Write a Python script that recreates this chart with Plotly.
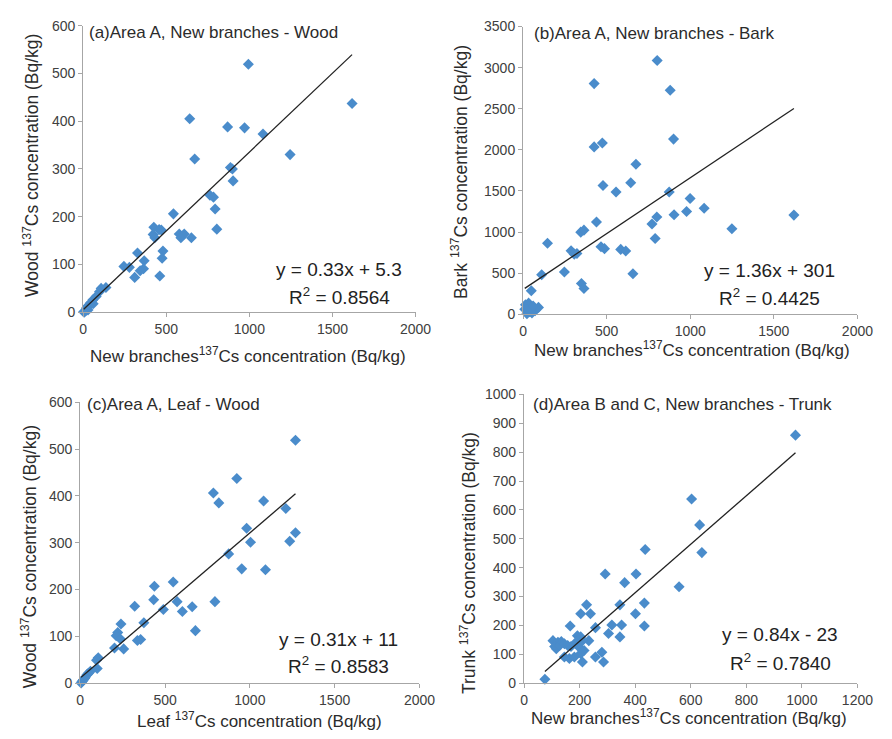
import numpy as np
import plotly.graph_objects as go

W, H = 892, 739

# ---------------- data ----------------
# (a) Area A, New branches - Wood
a_x = [994, 1618, 641, 869, 971, 1082, 1245, 671, 886, 898, 902, 763, 784, 794, 804, 543, 425, 457,
       470, 421, 431, 578, 608, 588, 651, 480, 475, 461, 327, 367, 363, 343, 245, 278, 310, 108, 137,
       98, 78, 59, 39, 20, 10, 29, 6, 15, 3, 25, 45, 60]
a_y = [519, 437, 405, 388, 386, 373, 330, 321, 303, 300, 275, 245, 241, 216, 174, 206, 178, 173,
       172, 163, 156, 164, 164, 156, 156, 128, 113, 76, 124, 108, 91, 87, 96, 94, 73, 50, 52,
       43, 33, 26, 16, 9, 2, 5, 0, 3, 1, 12, 20, 18]
a_fit = (0.33, 5.3)

# (b) Area A, New branches - Bark
b_x = [802, 425, 880, 900, 425, 474, 675, 644, 478, 556, 874, 999, 1083, 978, 903, 1620, 800, 771,
       790, 1249, 439, 345, 364, 146, 287, 306, 322, 466, 487, 584, 614, 111, 247, 349, 364, 657,
       49, 14, 33, 23, 72, 92, 53, 23, 10, 40, 60]
b_y = [3087, 2806, 2726, 2131, 2036, 2083, 1825, 1599, 1567, 1488, 1488, 1409, 1290, 1250, 1210,
       1206, 1183, 1099, 921, 1040, 1123, 999, 1023, 863, 772, 731, 740, 821, 798, 789, 770, 481,
       513, 373, 314, 492, 286, 115, 135, 56, 44, 83, 15, 5, 60, 30, 100]
b_fit = (1.36, 301)

# (c) Area A, Leaf - Wood
c_x = [1269, 923, 785, 817, 1081, 1212, 981, 1004, 1235, 1269, 875, 952, 1092, 794, 548, 437, 433,
       571, 490, 602, 660, 679, 321, 375, 240, 221, 212, 237, 337, 356, 202, 256, 106, 96, 100,
       48, 29, 19, 10, 5, 40, 15, 60, 25]
c_y = [519, 437, 406, 385, 389, 373, 331, 301, 303, 321, 276, 244, 242, 174, 216, 207, 178,
       174, 157, 153, 163, 112, 164, 129, 126, 108, 101, 94, 91, 93, 75, 73, 54, 49, 31,
       21, 12, 7, 3, 0, 18, 5, 25, 10]
c_fit = (0.31, 11)

# (d) Area B and C, New branches - Trunk
d_x = [977, 603, 632, 640, 558, 436, 403, 292, 362, 345, 433, 401, 433, 351, 316, 345, 304, 225,
       239, 204, 166, 257, 233, 104, 122, 134, 110, 116, 128, 145, 157, 169, 192, 204, 187, 210,
       198, 216, 145, 163, 181, 204, 210, 257, 280, 286, 75]
d_y = [859, 638, 548, 452, 334, 463, 378, 378, 348, 271, 277, 240, 198, 201, 201, 160, 172, 271,
       240, 240, 198, 192, 147, 147, 141, 144, 127, 119, 130, 136, 130, 127, 164, 160, 141, 147,
       124, 113, 90, 85, 90, 102, 73, 90, 107, 73, 13]
d_fit = (0.84, -23)

titles = ["(a)Area A, New branches - Wood", "(b)Area A, New branches - Bark",
          "(c)Area A, Leaf - Wood", "(d)Area B and C, New branches - Trunk"]
x_titles = ["New branches<sup>137</sup>Cs concentration (Bq/kg)",
            "New branches<sup>137</sup>Cs concentration (Bq/kg)",
            "Leaf <sup>137</sup>Cs concentration (Bq/kg)",
            "New branches<sup>137</sup>Cs concentration (Bq/kg)"]
y_titles = ["Wood <sup>137</sup>Cs concentration (Bq/kg)",
            "Bark <sup>137</sup>Cs concentration (Bq/kg)",
            "Wood <sup>137</sup>Cs concentration (Bq/kg)",
            "Trunk <sup>137</sup>Cs concentration (Bq/kg)"]
eqs = ["y = 0.33x + 5.3", "y = 1.36x + 301", "y = 0.31x + 11", "y = 0.84x - 23"]
r2s = ["R<sup>2</sup> = 0.8564", "R<sup>2</sup> = 0.4425", "R<sup>2</sup> = 0.8583", "R<sup>2</sup> = 0.7840"]

x_ranges = [(0, 2000, 500), (0, 2000, 500), (0, 2000, 500), (0, 1200, 200)]
y_ranges = [(0, 600, 100), (0, 3500, 500), (0, 600, 100), (0, 1000, 100)]

# ---------------- layout geometry (pixels) ----------------
boxes = [(81, 421, 18, 311), (531, 873, 19, 313), (78, 425, 403, 690), (532, 873, 395, 690)]
title_pos = [(85, 25), (540, 26), (83, 405), (539, 405)]
xt_pos = [(250, 355), (704, 349), (261, 728), (701, 725)]
yt_pos = [(27, 161), (466, 168), (25, 561), (474, 567)]
eq_pos = [(343, 267, 294), (783, 268, 295), (342, 645, 672), (794, 640, 668)]

MARKER = "#4a8ccb"
AXC = "#a6a6a6"
TXT = "#2b2b2b"
FONT = "Liberation Sans, Arial, sans-serif"

fig = go.Figure()
layout = dict(width=W, height=H, margin=dict(l=0, r=0, t=0, b=0),
              paper_bgcolor="white", plot_bgcolor="white", showlegend=False,
              font=dict(family=FONT, color=TXT))
annotations = []

data = [(a_x, a_y, a_fit), (b_x, b_y, b_fit), (c_x, c_y, c_fit), (d_x, d_y, d_fit)]

for i, (xs, ys, fit) in enumerate(data):
    n = "" if i == 0 else str(i + 1)
    xa, ya = "x" + n, "y" + n
    fig.add_trace(go.Scatter(x=xs, y=ys, mode="markers", xaxis=xa, yaxis=ya, cliponaxis=False,
                             marker=dict(symbol="diamond", size=8.5, color=MARKER,
                                         line=dict(width=0))))
    xl = np.array([min(xs), max(xs)], dtype=float)
    fig.add_trace(go.Scatter(x=xl, y=fit[0] * xl + fit[1], mode="lines", xaxis=xa, yaxis=ya,
                             cliponaxis=False, line=dict(color="#222222", width=1.3)))
    L, R, T, B = boxes[i]
    xr, yr = x_ranges[i], y_ranges[i]
    axis_common = dict(showgrid=False, zeroline=False, showline=True, linecolor=AXC, linewidth=1.2,
                       ticks="outside", ticklen=4, tickcolor=AXC, tickwidth=1.2,
                       tickfont=dict(size=14, color="#404040", family=FONT))
    layout["xaxis" + n] = dict(domain=[L / W, R / W], range=[xr[0], xr[1]], dtick=xr[2],
                               tick0=0, anchor=ya, **axis_common)
    layout["yaxis" + n] = dict(domain=[1 - B / H, 1 - T / H], range=[yr[0], yr[1]], dtick=yr[2],
                               tick0=0, anchor=xa, **axis_common)
    annotations.append(dict(text=titles[i], x=title_pos[i][0] / W, y=1 - title_pos[i][1] / H,
                            xref="paper", yref="paper", xanchor="left", yanchor="middle",
                            showarrow=False, font=dict(size=17, color=TXT)))
    annotations.append(dict(text=x_titles[i], x=xt_pos[i][0] / W, y=1 - xt_pos[i][1] / H,
                            xref="paper", yref="paper", xanchor="center", yanchor="middle",
                            showarrow=False, font=dict(size=17, color=TXT)))
    annotations.append(dict(text=y_titles[i], x=yt_pos[i][0] / W, y=1 - yt_pos[i][1] / H,
                            xref="paper", yref="paper", xanchor="center", yanchor="middle",
                            textangle=-90, showarrow=False, font=dict(size=17.5, color=TXT)))
    annotations.append(dict(text=eqs[i], x=eq_pos[i][0] / W, y=1 - eq_pos[i][1] / H,
                            xref="paper", yref="paper", xanchor="center", yanchor="middle",
                            showarrow=False, font=dict(size=19, color="#222222")))
    annotations.append(dict(text=r2s[i], x=eq_pos[i][0] / W, y=1 - eq_pos[i][2] / H,
                            xref="paper", yref="paper", xanchor="center", yanchor="middle",
                            showarrow=False, font=dict(size=19, color="#222222")))

layout["annotations"] = annotations
fig.update_layout(**layout)
fig.write_html("out.html", config={"displayModeBar": False},
               post_script="document.body.style.margin='0';document.body.style.overflow='hidden';")
